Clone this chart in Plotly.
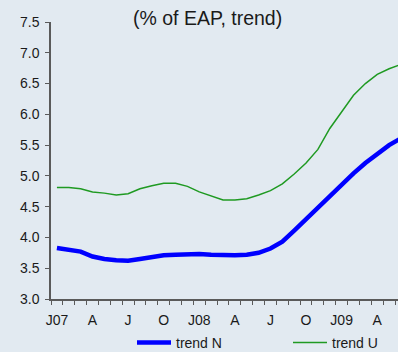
import plotly.graph_objects as go

# Monthly observations, Jan 2007 - Jun 2009
months = ["J07", "F", "M", "A", "M", "J", "J", "A", "S", "O", "N", "D",
          "J08", "F", "M", "A", "M", "J", "J", "A", "S", "O", "N", "D",
          "J09", "F", "M", "A", "M", "J"]
trend_n = [3.83, 3.80, 3.77, 3.69, 3.65, 3.63, 3.62, 3.65, 3.68, 3.71,
           3.72, 3.73, 3.73, 3.72, 3.71, 3.71, 3.72, 3.75, 3.82, 3.93,
           4.11, 4.30, 4.48, 4.68, 4.87, 5.04, 5.21, 5.36, 5.50, 5.61]
trend_u = [4.81, 4.81, 4.79, 4.74, 4.72, 4.69, 4.71, 4.79, 4.84, 4.88,
           4.88, 4.83, 4.74, 4.68, 4.61, 4.61, 4.63, 4.69, 4.76, 4.87,
           5.03, 5.21, 5.43, 5.77, 6.03, 6.31, 6.50, 6.65, 6.74, 6.81]
y_ticks = [3.0, 3.5, 4.0, 4.5, 5.0, 5.5, 6.0, 6.5, 7.0, 7.5]
label_every = 3

BG = "#e2eaf1"
AXIS = "#5a5a5a"
FONT = "Liberation Sans, Arial, sans-serif"

# each month occupies one unit; points sit in the middle of their month
xpos = [i + 0.5 for i in range(len(months))]

fig = go.Figure()
fig.add_trace(go.Scatter(x=xpos, y=trend_n, mode="lines", name="trend N",
                         legend="legend",
                         line=dict(color="#0000ff", width=4.5)))
fig.add_trace(go.Scatter(x=xpos, y=trend_u, mode="lines", name="trend U",
                         legend="legend2",
                         line=dict(color="#1f9a22", width=1.5)))

label_pos = [xpos[i] for i in range(0, len(months), label_every)]
label_txt = [months[i] for i in range(0, len(months), label_every)]

legend_common = dict(orientation="h", xref="container", yref="container",
                     y=1 - 343 / 352, yanchor="middle", itemwidth=34,
                     bgcolor="rgba(0,0,0,0)", font=dict(size=14),
                     borderwidth=0)

fig.update_layout(
    width=398, height=352,
    margin=dict(l=51, r=0, t=22, b=53, autoexpand=False),
    paper_bgcolor=BG, plot_bgcolor=BG,
    font=dict(family=FONT, size=14, color="#1a1a1a"),
    showlegend=True,
    legend=dict(x=132 / 398, xanchor="left", **legend_common),
    legend2=dict(x=288 / 398, xanchor="left", **legend_common),
    xaxis=dict(
        range=[0, 29.25], showgrid=False, zeroline=False,
        showline=True, linecolor=AXIS, linewidth=1.5,
        tickmode="array", tickvals=label_pos, ticktext=label_txt,
        ticks="outside", ticklen=4, tickcolor="rgba(0,0,0,0)",
        ticklabelstandoff=3,
        tickfont=dict(size=14),
        minor=dict(tickmode="linear", tick0=0, dtick=1, ticks="outside",
                   ticklen=4, tickwidth=1.2, tickcolor=AXIS, showgrid=False),
    ),
    yaxis=dict(
        range=[3.0, 7.5], showgrid=False, zeroline=False,
        showline=True, linecolor=AXIS, linewidth=1.5,
        tickmode="array", tickvals=y_ticks, tickformat=".1f",
        ticks="outside", ticklen=4, tickwidth=1.2, tickcolor=AXIS,
        tickfont=dict(size=14), ticklabelstandoff=3,
    ),
    annotations=[dict(text="(% of EAP, trend)", xref="paper", yref="paper",
                      x=0.4524, y=1.016, xanchor="center", yanchor="middle",
                      showarrow=False, font=dict(size=19.5, color="#1a1a1a"))],
)

fig.write_html("out.html")
